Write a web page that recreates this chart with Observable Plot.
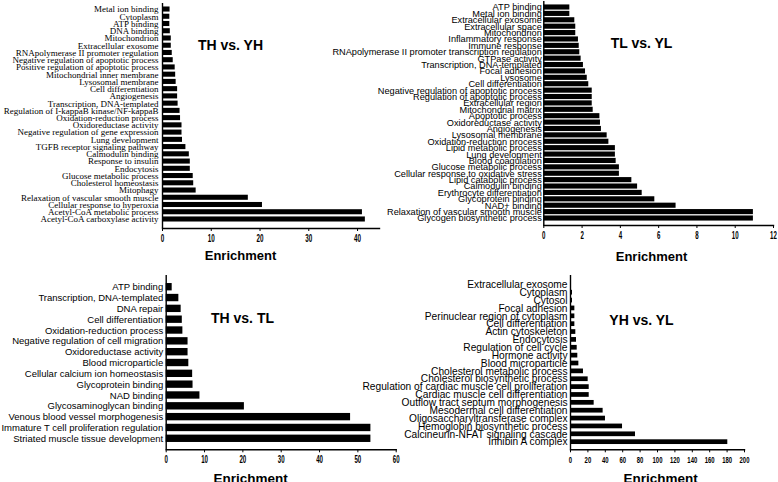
<!DOCTYPE html>
<html><head><meta charset="utf-8">
<script src="https://cdn.jsdelivr.net/npm/d3@7"></script>
<script src="https://cdn.jsdelivr.net/npm/@observablehq/plot@0.6"></script>
<style>
body{margin:0;background:#fff}
#wrap{position:relative;width:778px;height:482px;overflow:hidden;background:#fff}
#wrap svg{position:absolute;overflow:visible}
</style></head><body><div id="wrap"></div>
<script>
// ---- TH vs. YH ----
const thyhTerms = ["Metal ion binding","Cytoplasm","ATP binding","DNA binding","Mitochondrion","Extracellular exosome","RNApolymerase II promoter regulation","Negative regulation of apoptotic process","Positive regulation of apoptotic process","Mitochondrial inner membrane","Lysosomal membrane","Cell differentiation","Angiogenesis","Transcription, DNA-templated","Regulation of I-kappaB kinase/NF-kappaB","Oxidation-reduction process","Oxidoreductase activity","Negative regulation of gene expression","Lung development","TGFB receptor signaling pathway","Calmodulin binding","Response to insulin","Endocytosis","Glucose metabolic process","Cholesterol homeostasis","Mitophagy","Relaxation of vascular smooth muscle","Cellular response to hyperoxia","Acetyl-CoA metabolic process","Acetyl-CoA carboxylase activity"];
const thyhValues = [1.55,1.5,1.5,1.6,1.8,1.8,2.0,2.2,2.6,2.7,2.8,3.1,3.1,3.2,3.6,3.7,4.0,4.0,4.1,4.8,5.5,5.7,5.7,6.3,6.4,6.9,17.6,20.5,41.0,41.6];
const thyhTicks = [0,10,20,30,40];

// ---- TL vs. YL ----
const tlylTerms = ["ATP binding","Metal ion binding","Extracellular exosome","Extracellular space","Mitochondrion","Inflammatory response","Immune response","RNApolymerase II promoter transcription regulation","GTPase activity","Transcription, DNA-templated","Focal adhesion","Lysosome","Cell differentiation","Negative regulation of apoptotic process","Regulation of apoptotic process","Extracellular region","Mitochondrial matrix","Apoptotic process","Oxidoreductase activity","Angiogenesis","Lysosomal membrane","Oxidation-reduction process","Lipid metabolic process","Lung development","Blood coagulation","Glucose metabolic process","Cellular response to oxidative stress","Lipid catabolic process","Calmodulin binding","Erythrocyte differentiation","Glycoprotein binding","NAD+ binding","Relaxation of vascular smooth muscle","Glycogen biosynthetic process"];
const tlylValues = [1.36,1.36,1.62,1.67,1.67,1.81,1.85,1.88,1.95,2.07,2.18,2.27,2.35,2.53,2.53,2.53,2.58,2.93,2.96,3.01,3.31,3.4,3.74,3.74,3.78,3.95,3.95,4.6,4.9,5.14,5.8,6.91,10.95,10.95];
const tlylTicks = [0,2,4,6,8,10,12];

// ---- TH vs. TL ----
const thtlTerms = ["ATP binding","Transcription, DNA-templated","DNA repair","Cell differentiation","Oxidation-reduction process","Negative regulation of cell migration","Oxidoreductase activity","Blood microparticle","Cellular calcium ion homeostasis","Glycoprotein binding","NAD binding","Glycosaminoglycan binding","Venous blood vessel morphogenesis","Immature T cell proliferation regulation","Striated muscle tissue development"];
const thtlValues = [1.56,3.3,3.9,4.2,4.35,5.7,5.7,5.9,6.9,7.0,8.8,20.4,48.1,53.4,53.4];
const thtlTicks = [0,10,20,30,40,50,60];

// ---- YH vs. YL ----
const yhylTerms = ["Extracellular exosome","Cytoplasm","Cytosol","Focal adhesion","Perinuclear region of cytoplasm","Cell differentiation","Actin cytoskeleton","Endocytosis","Regulation of cell cycle","Hormone activity","Blood microparticle","Cholesterol metabolic process","Cholesterol biosynthetic process","Regulation of cardiac muscle cell proliferation","Cardiac muscle cell differentiation","Outflow tract septum morphogenesis","Mesodermal cell differentiation","Oligosaccharyltransferase complex","Hemoglobin biosynthetic process","Calcineurin-NFAT signaling cascade","Inhibin A complex"];
const yhylValues = [0.5,2.3,2.3,5,5,5,6.1,6.9,7.7,8.4,9.6,14.9,20.3,21.5,21.5,27.2,37.5,40.2,59.8,74.7,180.8];
const yhylTicks = [0,20,40,60,80,100,120,140,160,180,200];

const wrap = document.getElementById("wrap");
const SANS = "'Liberation Sans',Arial,sans-serif";
const SERIF = "'Liberation Serif','Times New Roman',serif";

function panel(o) {
  const data = o.terms.map((t, i) => ({term: t, value: o.values[i]}));
  const fx = o.left + o.marginLeft, fy = o.top + o.marginTop;
  const chart = Plot.plot({
    width: o.width, height: o.height,
    marginLeft: o.marginLeft, marginRight: o.marginRight,
    marginTop: o.marginTop, marginBottom: o.marginBottom,
    style: {background: "transparent", overflow: "visible"},
    x: {domain: o.xDomain},
    y: {domain: o.terms, range: o.yRange, paddingInner: o.pad, paddingOuter: o.pad / 2, round: false},
    marks: [
      Plot.barX(data, {x: "value", y: "term", fill: "black"}),
      Plot.ruleX([0], {stroke: "black", strokeWidth: 1.4}),
      Plot.frame({anchor: "bottom", stroke: "black", strokeWidth: 1.4}),
      Plot.axisY({tickSize: 0, tickPadding: o.tickPad, fontSize: o.labelSize, fontFamily: o.labelFont, fill: "black", label: null}),
      Plot.axisX({ticks: o.xTicks, tickSize: 3, tickPadding: 3.5, fontSize: o.tickFont, fontFamily: SANS, fontWeight: "bold", fill: "black", stroke: "black", label: null}),
      Plot.text([o.title], {text: d => d, frameAnchor: "top-left", textAnchor: "middle", lineAnchor: "middle", ariaLabel: "panel-title",
        dx: o.titlePos[0] - fx, dy: o.titlePos[1] - fy, fontSize: 14, fontWeight: "bold", fontFamily: SANS, fill: "black"}),
      Plot.text(["Enrichment"], {text: d => d, frameAnchor: "top-left", textAnchor: "middle", lineAnchor: "middle",
        dx: o.labelPos[0] - fx, dy: o.labelPos[1] - fy, fontSize: o.enrichSize, fontWeight: "bold", fontFamily: SANS, fill: "black"})
    ]
  });
  // condensed look of the original tick labels and titles
  d3.select(chart).selectAll('g[aria-label="x-axis tick label"] text').each(function () {
    this.setAttribute("textLength", this.textContent.length * o.digitW);
    this.setAttribute("lengthAdjust", "spacingAndGlyphs");
  });
  d3.select(chart).selectAll('g[aria-label="panel-title"] text')
    .attr("textLength", o.titleW).attr("lengthAdjust", "spacingAndGlyphs");
  chart.style.left = o.left + "px";
  chart.style.top = o.top + "px";
  wrap.append(chart);
}

panel({terms: thyhTerms, values: thyhValues, xTicks: thyhTicks, xDomain: [0, 44.5],
  left: 0, top: 0, width: 390, height: 265, marginLeft: 162, marginRight: 11, marginTop: 3, marginBottom: 37,
  yRange: [5.4, 222.6], pad: 0.3, labelFont: SERIF, labelSize: 9, tickPad: 4, tickFont: 10, digitW: 3.5,
  title: "TH vs. YH", titlePos: [230, 45], titleW: 52, labelPos: [240, 255], enrichSize: 13});

panel({terms: tlylTerms, values: tlylValues, xTicks: tlylTicks, xDomain: [0, 12],
  left: 370, top: 0, width: 408, height: 265, marginLeft: 173.3, marginRight: 5, marginTop: 1, marginBottom: 40,
  yRange: [3.8, 221.2], pad: 0.2, labelFont: SANS, labelSize: 9.2, tickPad: 2, tickFont: 10, digitW: 3.4,
  title: "TL vs. YL", titlePos: [641, 43], titleW: 48, labelPos: [651, 256], enrichSize: 13});

panel({terms: thtlTerms, values: thtlValues, xTicks: thtlTicks, xDomain: [0, 60],
  left: 0, top: 265, width: 400, height: 217, marginLeft: 165.7, marginRight: 4.3, marginTop: 10, marginBottom: 32.7,
  yRange: [16.3, 178.7], pad: 0.32, labelFont: SANS, labelSize: 9.5, tickPad: 3, tickFont: 10, digitW: 3.4,
  title: "TH vs. TL", titlePos: [242, 318], titleW: 49, labelPos: [250, 478], enrichSize: 13.5});

panel({terms: yhylTerms, values: yhylValues, xTicks: yhylTicks, xDomain: [0, 200],
  left: 389, top: 265, width: 389, height: 217, marginLeft: 181, marginRight: 34, marginTop: 10, marginBottom: 32.7,
  yRange: [15.4, 180.6], pad: 0.4, labelFont: SANS, labelSize: 10.2, tickPad: 3, tickFont: 9, digitW: 3.3,
  title: "YH vs. YL", titlePos: [641, 320], titleW: 48, labelPos: [660, 478], enrichSize: 13.5});
</script>
</body></html>
